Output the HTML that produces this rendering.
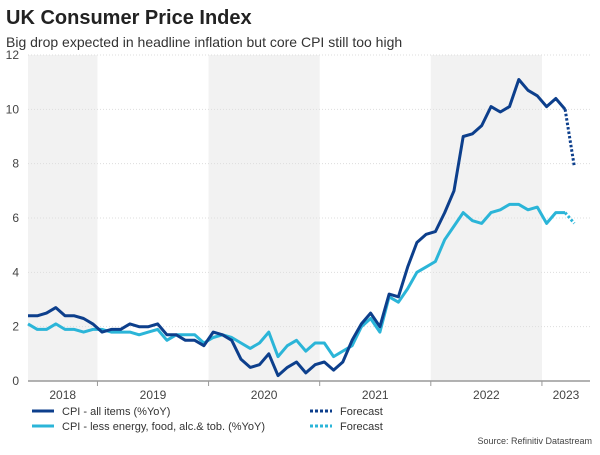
<!DOCTYPE html>
<html><head><meta charset="utf-8"><style>
body{margin:0;background:#fff;font-family:"Liberation Sans",Arial,sans-serif;}
</style></head><body>
<svg width="600" height="450" xmlns="http://www.w3.org/2000/svg" font-family="Liberation Sans, Arial, sans-serif">
<text x="6" y="24" font-size="20" font-weight="bold" fill="#222">UK Consumer Price Index</text>
<text x="6" y="47" font-size="14" fill="#333">Big drop expected in headline inflation but core CPI still too high</text>
<g id="bands"></g><g id="grid"></g><g id="series"></g><g id="axes"></g>
<g>
<line x1="32" y1="411" x2="54" y2="411" stroke="#0d3f8c" stroke-width="3"/>
<text x="62" y="415" font-size="11" fill="#333">CPI - all items (%YoY)</text>
<line x1="310" y1="411" x2="332" y2="411" stroke="#0d3f8c" stroke-width="3" stroke-dasharray="3,2"/>
<text x="340" y="415" font-size="11" fill="#333">Forecast</text>
<line x1="32" y1="426" x2="54" y2="426" stroke="#2bb5d8" stroke-width="3"/>
<text x="62" y="430" font-size="11" fill="#333">CPI - less energy, food, alc.&amp; tob. (%YoY)</text>
<line x1="310" y1="426" x2="332" y2="426" stroke="#2bb5d8" stroke-width="3" stroke-dasharray="3,2"/>
<text x="340" y="430" font-size="11" fill="#333">Forecast</text>
</g>
<text x="592" y="444" font-size="9" fill="#444" text-anchor="end">Source: Refinitiv Datastream</text>
</svg>
<script>
const years=["2018","2019","2020","2021","2022","2023"];
const yTicks=[0,2,4,6,8,10,12];
const cpi=[2.4,2.4,2.5,2.7,2.4,2.4,2.3,2.1,1.8,1.9,1.9,2.1,2.0,2.0,2.1,1.7,1.7,1.5,1.5,1.3,1.8,1.7,1.5,0.8,0.5,0.6,1.0,0.2,0.5,0.7,0.3,0.6,0.7,0.4,0.7,1.5,2.1,2.5,2.0,3.2,3.1,4.2,5.1,5.4,5.5,6.2,7.0,9.0,9.1,9.4,10.1,9.9,10.1,11.1,10.7,10.5,10.1,10.4,10.0];
const core=[2.1,1.9,1.9,2.1,1.9,1.9,1.8,1.9,1.9,1.8,1.8,1.8,1.7,1.8,1.9,1.5,1.7,1.7,1.7,1.4,1.6,1.7,1.6,1.4,1.2,1.4,1.8,0.9,1.3,1.5,1.1,1.4,1.4,0.9,1.1,1.3,2.0,2.3,1.8,3.1,2.9,3.4,4.0,4.2,4.4,5.2,5.7,6.2,5.9,5.8,6.2,6.3,6.5,6.5,6.3,6.4,5.8,6.2,6.2];
const cpiForecast=[7.9];
const coreForecast=[5.8];
const startMonth=4; // May 2018 (months since Jan 2018)
const NS="http://www.w3.org/2000/svg";
const X0=28,X1=590,Y0=381,Y12=55;
function xs(m){return 28+(m-startMonth)*9.26;}
function ys(v){return Y0-(v/12)*(Y0-Y12);}
function mk(tag,attrs,parent){const e=document.createElementNS(NS,tag);for(const k in attrs)e.setAttribute(k,attrs[k]);document.getElementById(parent).appendChild(e);return e;}
// bands & year labels
years.forEach((y,i)=>{
  const a=Math.max(X0,xs(i*12-0.5)),b=Math.min(X1,xs(i*12+11.5));
  if(i%2===0){const r=mk('rect',{x:a,y:Y12,width:b-a,height:Y0-Y12,fill:'#f2f2f2'},'bands');
  
  }
  const t=mk('text',{x:(a+b)/2,y:399,'font-size':12,fill:'#444','text-anchor':'middle'},'axes');t.textContent=y;
  
  
  if(i>0){const tk=mk('line',{x1:a,x2:a,y1:Y0,y2:Y0+5,stroke:'#999'},'axes');
  
  }
});
yTicks.forEach(v=>{
  if(v>0){const g=mk('line',{x1:X0,x2:X1,y1:ys(v),y2:ys(v),stroke:'#ddd','stroke-dasharray':'1,2'},'grid');
  
  }
  const t=mk('text',{x:19,y:ys(v)+4,'font-size':12,fill:'#444','text-anchor':'end'},'axes');t.textContent=v;
  
  
});
const ax=mk('line',{x1:X0,x2:X1,y1:Y0,y2:Y0,stroke:'#999','stroke-width':1.5},'axes');


function line(vals,off,color,dash,name){
  const pts=vals.map((v,i)=>xs(startMonth+off+i).toFixed(1)+','+ys(v).toFixed(1)).join(' ');
  const a={points:pts,fill:'none',stroke:color,'stroke-width':3,'stroke-linejoin':'round'};
  if(dash)a['stroke-dasharray']='2.5,2';
  const p=mk('polyline',a,'series');
  
  
}
const n=cpi.length;
line([cpi[n-1]].concat(cpiForecast),n-1,'#0d3f8c',true,'cpi-forecast-line');
line([core[n-1]].concat(coreForecast),n-1,'#2bb5d8',true,'core-forecast-line');
line(core,0,'#2bb5d8',false,'core-cpi-line');
line(cpi,0,'#0d3f8c',false,'cpi-line');
</script>
</body></html>
